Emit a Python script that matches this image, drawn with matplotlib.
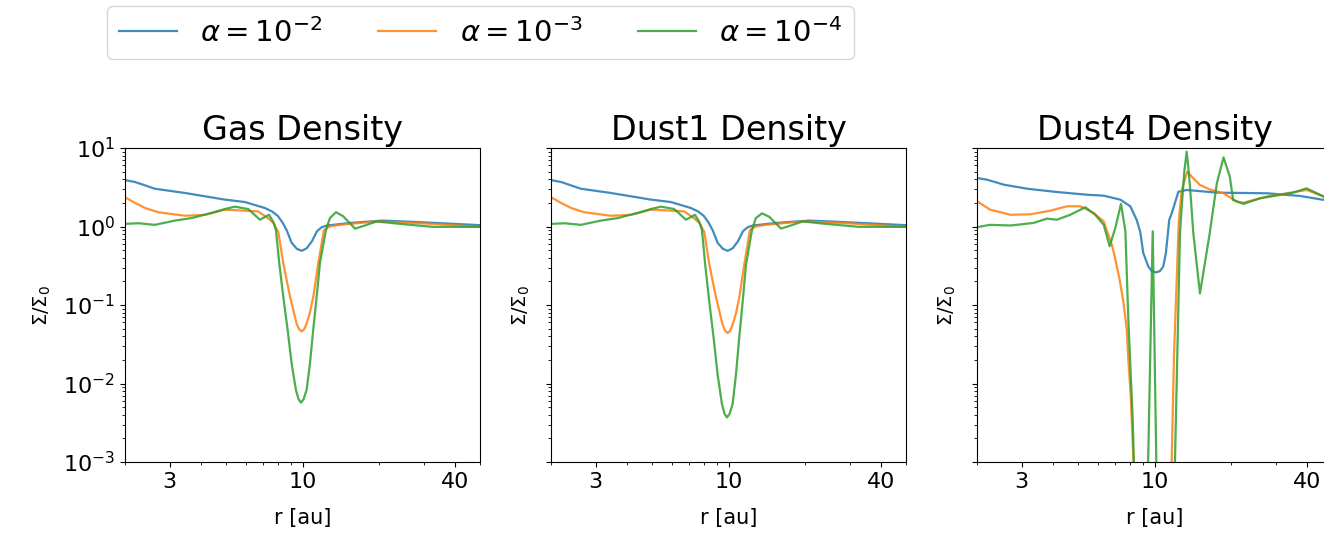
# -------------------------------
# IMPORT LIBRARIES
# -------------------------------
import matplotlib
matplotlib.use("Agg")
import matplotlib.pyplot as plt
from matplotlib.ticker import NullFormatter

# -------------------------------
# DATA
# r in au, density in units of Sigma_0
# -------------------------------
alpha_labels = [r"$\alpha = 10^{-2}$", r"$\alpha = 10^{-3}$", r"$\alpha = 10^{-4}$"]
panel_titles = ["Gas Density", "Dust1 Density", "Dust4 Density"]
x_ticks = [3, 10, 40]

# --- Gas ---
gas_r_a2 = [2.0, 2.19, 2.62, 3.45, 4.95, 5.93, 7.11, 7.6, 8.0, 8.35, 8.66, 9.06, 9.5,
            9.93, 10.4, 10.9, 11.4, 11.9, 12.5, 15.4, 20.7, 28.2, 50]
gas_a2 = [3.9, 3.69, 3.03, 2.67, 2.2, 2.05, 1.72, 1.55, 1.36, 1.12, 0.9, 0.62, 0.52,
          0.49, 0.53, 0.65, 0.87, 0.98, 1.03, 1.11, 1.19, 1.14, 1.04]

gas_r_a3 = [2.0, 2.19, 2.40, 2.70, 3.45, 4.13, 4.95, 5.93, 6.68, 7.31, 7.70, 8.03,
            8.40, 8.93, 9.25, 9.48, 9.7, 9.93, 10.15, 10.38, 10.7, 11.03, 11.54,
            12.14, 12.8, 14.0, 16.8, 19.6, 28.1, 50]
gas_a3 = [2.36, 2.0, 1.72, 1.52, 1.37, 1.41, 1.64, 1.59, 1.56, 1.28, 1.1, 0.85,
          0.34, 0.128, 0.08, 0.058, 0.049, 0.046, 0.049, 0.058, 0.08, 0.128, 0.34,
          0.9, 1.0, 1.05, 1.11, 1.16, 1.11, 0.99]

gas_r_a4 = [2.0, 2.26, 2.62, 3.15, 3.66, 4.39, 4.95, 5.42, 6.11, 6.80, 7.38, 7.67,
            7.86, 8.10, 8.40, 8.74, 9.06, 9.42, 9.65, 9.86, 10.1, 10.38, 10.70,
            11.02, 11.37, 11.71, 12.37, 12.82, 13.55, 14.46, 16.1, 17.6, 19.6, 24.2,
            32.6, 50]
gas_a4 = [1.08, 1.10, 1.05, 1.19, 1.28, 1.49, 1.67, 1.79, 1.67, 1.22, 1.41, 1.15,
          0.9, 0.34, 0.128, 0.048, 0.018, 0.0083, 0.0063, 0.0057, 0.0063, 0.0083,
          0.018, 0.048, 0.128, 0.34, 0.9, 1.28, 1.52, 1.35, 0.94, 1.03, 1.16, 1.08,
          0.99, 0.99]

# --- Dust1 (almost the same as gas, deeper gap for alpha=1e-4) ---
dust1_r_a2 = gas_r_a2
dust1_a2 = [3.9, 3.69, 3.03, 2.67, 2.2, 2.05, 1.72, 1.55, 1.36, 1.12, 0.9, 0.62, 0.52,
            0.49, 0.53, 0.65, 0.87, 0.98, 1.03, 1.11, 1.19, 1.14, 1.04]

dust1_r_a3 = gas_r_a3
dust1_a3 = [2.36, 2.0, 1.72, 1.52, 1.37, 1.41, 1.64, 1.59, 1.56, 1.28, 1.1, 0.85,
            0.33, 0.125, 0.078, 0.056, 0.047, 0.044, 0.047, 0.056, 0.078, 0.125,
            0.33, 0.9, 1.0, 1.05, 1.11, 1.16, 1.11, 0.99]

dust1_r_a4 = gas_r_a4
dust1_a4 = [1.08, 1.10, 1.05, 1.19, 1.28, 1.49, 1.67, 1.79, 1.67, 1.22, 1.41, 1.15,
            0.9, 0.32, 0.11, 0.038, 0.013, 0.0055, 0.0041, 0.0037, 0.0041, 0.0055,
            0.013, 0.038, 0.11, 0.32, 0.9, 1.28, 1.47, 1.33, 0.94, 1.03, 1.16, 1.08,
            0.99, 0.99]

# --- Dust4 ---
dust4_r_a2 = [2.0, 2.19, 2.55, 3.15, 4.13, 5.42, 6.31, 7.33, 8.03, 8.51, 8.79, 9.03,
              9.45, 9.75, 10.13, 10.5, 10.83, 11.09, 11.43, 11.69, 12.42, 13.39,
              17.6, 27.7, 37.4, 46.5, 50]
dust4_a2 = [4.15, 3.95, 3.41, 3.03, 2.75, 2.54, 2.47, 2.2, 1.81, 1.21, 0.85, 0.46,
            0.31, 0.27, 0.26, 0.27, 0.31, 0.46, 1.21, 1.47, 2.77, 2.92, 2.70, 2.65,
            2.45, 2.18, 2.1]

dust4_r_a3 = [2.0, 2.25, 2.71, 3.24, 3.89, 4.52, 5.10, 5.76, 6.31, 6.48, 6.78, 6.99,
              7.27, 7.54, 7.77, 7.89, 8.06, 8.25, 8.4, 9.0, 10.0, 11.0, 11.5, 11.94,
              12.47, 12.80, 13.46, 14.22, 15.1, 16.5, 18.7, 21.1, 22.4, 27.7, 39.7,
              46.5, 50]
dust4_a3 = [2.1, 1.64, 1.41, 1.43, 1.59, 1.81, 1.81, 1.49, 1.16, 0.9, 0.6, 0.4,
            0.22, 0.11, 0.05, 0.02, 0.007, 0.0012, 1e-4, 1e-6, 1e-6, 1e-6, 1e-4,
            0.024, 1.2, 2.9, 5.0, 4.11, 3.38, 2.97, 2.65, 2.07, 2.01, 2.4, 2.92,
            2.4, 2.25]

dust4_r_a4 = [2.0, 2.25, 2.71, 3.34, 3.77, 4.13, 4.66, 5.34, 5.84, 6.31, 6.66, 7.01,
              7.38, 7.68, 7.89, 8.21, 8.6, 9.1, 9.40, 9.84, 10.2, 10.8, 11.4, 11.85,
              12.6, 12.8, 13.1, 13.39, 13.6, 13.83, 14.22, 15.1, 16.5, 17.6, 18.7,
              19.8, 20.4, 22.4, 26.0, 35.2, 39.7, 46.5, 50]
dust4_a4 = [0.98, 1.05, 1.03, 1.11, 1.26, 1.22, 1.41, 1.76, 1.41, 1.05, 0.56, 0.96,
            1.94, 0.87, 0.064, 0.0034, 1e-5, 1e-5, 5e-4, 0.87, 5e-4, 1e-5, 1e-5,
            1e-4, 0.83, 1.79, 5.0, 8.97, 5.5, 2.9, 0.82, 0.14, 0.82, 3.55, 7.6, 4.3,
            2.18, 1.94, 2.29, 2.7, 3.06, 2.4, 2.25]

panels = [
    [(gas_r_a2, gas_a2), (gas_r_a3, gas_a3), (gas_r_a4, gas_a4)],
    [(dust1_r_a2, dust1_a2), (dust1_r_a3, dust1_a3), (dust1_r_a4, dust1_a4)],
    [(dust4_r_a2, dust4_a2), (dust4_r_a3, dust4_a3), (dust4_r_a4, dust4_a4)],
]

# -------------------------------
# FIGURE
# -------------------------------
W, H = 1324, 535
fig = plt.figure(figsize=(W / 100, H / 100), dpi=100)

ax_lefts = [125, 551, 977]
ax_w, ax_bottom, ax_top = 355, 462, 148

lines = []
for i, (left, title) in enumerate(zip(ax_lefts, panel_titles)):
    ax = fig.add_axes([left / W, 1 - ax_bottom / H, ax_w / W, (ax_bottom - ax_top) / H])
    for j, (r, sig) in enumerate(panels[i]):
        ln, = ax.plot(r, sig, color=f"C{j}", lw=1.6, alpha=0.85)
        if i == 0:
            lines.append(ln)
    ax.set_xscale("log")
    ax.set_yscale("log")
    ax.set_xlim(2, 50)
    ax.set_ylim(1e-3, 1e1)
    ax.set_xticks(x_ticks)
    ax.set_xticklabels([str(t) for t in x_ticks])
    ax.xaxis.set_minor_formatter(NullFormatter())
    ax.tick_params(axis="both", which="major", labelsize=16)
    if i > 0:
        ax.set_yticklabels([])
        ax.yaxis.set_minor_formatter(NullFormatter())
    ax.set_title(title, fontsize=24)
    ax.set_xlabel("r [au]", fontsize=15, labelpad=12)
    ax.set_ylabel(r"$\Sigma/\Sigma_0$", fontsize=14, labelpad=7)

fig.legend(lines, alpha_labels, loc="upper left",
           bbox_to_anchor=(107 / W, 1 - 6 / H), borderaxespad=0,
           ncol=3, fontsize=21, columnspacing=1.9, handlelength=2.0)

fig.savefig("out.png", dpi=100)
